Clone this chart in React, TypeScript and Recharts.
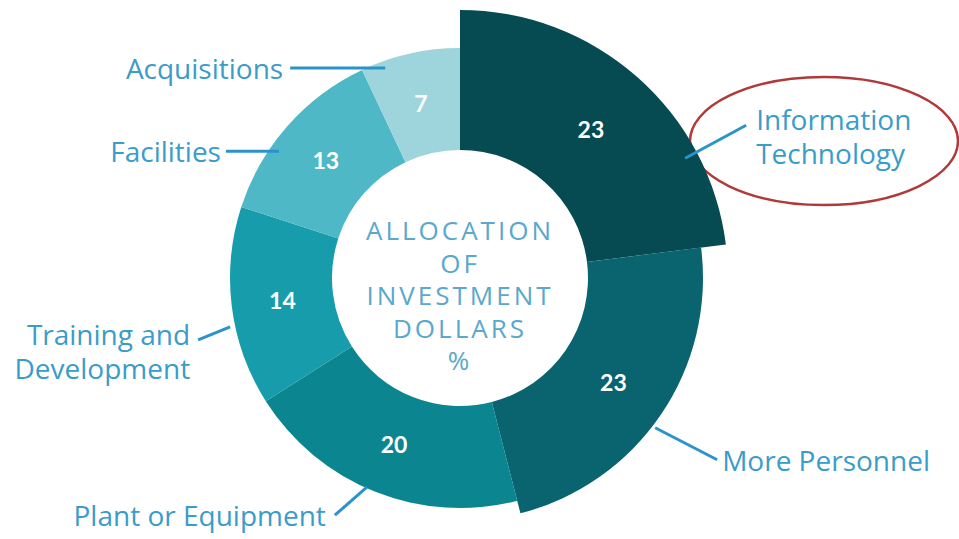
import React from "react";
import { PieChart, Pie, Cell } from "recharts";

const categorias = [
  "Information Technology",
  "More Personnel",
  "Plant or Equipment",
  "Training and Development",
  "Facilities",
  "Acquisitions",
];
const valores = [23, 23, 20, 14, 13, 7];

const cores = ["#064a52", "#0a6470", "#0b8590", "#169cab", "#4fb8c6", "#9ed5dc"];
// raio externo de cada fatia (IT e More Personnel se destacam)
const raios = [268, 243, 230, 230, 230, 230];

// linhas de chamada: angulo de partida, raio, deslocamento ate o texto
const chamadas = [
  { ang: 28, r: 255, dx: 61, dy: -33, gap: 10, linhas: ["Information", "Technology"], anchor: "start" },
  { ang: -37.5, r: 246, dx: 62, dy: 32, gap: 5, linhas: ["More Personnel"], anchor: "start" },
  { ang: -114, r: 229, dx: -32, dy: 28, gap: 9, linhas: ["Plant or Equipment"], anchor: "end" },
  { ang: -168, r: 235, dx: -32, dy: 13, gap: 8, linhas: ["Training and", "Development"], anchor: "end" },
  { ang: 145, r: 221, dx: -53, dy: 0, gap: 5, linhas: ["Facilities"], anchor: "end" },
  { ang: 109.6, r: 223, dx: -95, dy: 0, gap: 7, linhas: ["Acquisitions"], anchor: "end" },
];

const textoCentro = ["ALLOCATION", "OF", "INVESTMENT", "DOLLARS", "%"];

const dados = categorias.map((nome, i) => ({ nome, valor: valores[i] }));
const RAD = Math.PI / 180;
const CX = 460;
const CY = 278;
const INNER = 128;

const camadas = Array.from(new Set(raios));

const renderLabel = (props: any) => {
  const { cx, cy, midAngle, index } = props;
  const rMeio = (INNER + raios[index]) / 2;
  const vx = cx + rMeio * Math.cos(-midAngle * RAD);
  const vy = cy + rMeio * Math.sin(-midAngle * RAD);
  const c = chamadas[index];
  const sx = cx + c.r * Math.cos(-c.ang * RAD);
  const sy = cy + c.r * Math.sin(-c.ang * RAD);
  const ex = sx + c.dx;
  const ey = sy + c.dy;
  const tx = c.anchor === "start" ? ex + c.gap : ex - c.gap;
  const n = c.linhas.length;
  return (
    <g key={"lbl" + index}>
      <text
        x={vx}
        y={vy}
        textAnchor="middle"
        dominantBaseline="central"
        fill="#ffffff"
        fontFamily="Lato"
        fontWeight={700}
        fontSize={23}
      >
        {valores[index]}
      </text>
      <line x1={sx} y1={sy} x2={ex} y2={ey} stroke="#2b93cc" strokeWidth={3} />
      {c.linhas.map((l, j) => (
        <text
          key={j}
          x={tx}
          y={ey + (j - (n - 1) / 2) * 34 + (n > 1 ? 11 : 0)}
          textAnchor={c.anchor}
          dominantBaseline="central"
          fill="#3a9cc9"
          fontFamily="Open Sans"
          fontWeight={500}
          fontSize={28}
        >
          {l}
        </text>
      ))}
    </g>
  );
};

export default function App() {
  return (
    <div style={{ position: "absolute", left: 0, top: 0, background: "#fff" }}>
      <PieChart width={959} height={539} margin={{ top: 0, right: 0, bottom: 0, left: 0 }}>
        {camadas.map((r) => (
          <Pie
            key={"camada" + r}
            data={dados}
            dataKey="valor"
            nameKey="nome"
            cx={CX}
            cy={CY}
            innerRadius={INNER}
            outerRadius={r}
            startAngle={90}
            endAngle={-270}
            stroke="none"
            isAnimationActive={false}
          >
            {dados.map((d, i) => (
              <Cell key={d.nome} fill={raios[i] === r ? cores[i] : "transparent"} />
            ))}
          </Pie>
        ))}
        <Pie
          data={dados}
          dataKey="valor"
          nameKey="nome"
          cx={CX}
          cy={CY}
          innerRadius={INNER}
          outerRadius={230}
          startAngle={90}
          endAngle={-270}
          fill="transparent"
          stroke="none"
          label={renderLabel}
          labelLine={false}
          isAnimationActive={false}
        />
        {textoCentro.map((t, i) => (
          <text
            key={t}
            x={CX}
            y={230 + i * 32.5}
            textAnchor="middle"
            dominantBaseline="central"
            fill="#5aa8cc"
            fontFamily="Open Sans"
            fontSize={26}
            letterSpacing={3}
          >
            {t}
          </text>
        ))}
        <ellipse cx={824} cy={141} rx={134} ry={64} fill="none" stroke="#b03a3a" strokeWidth={2.5} />
      </PieChart>
    </div>
  );
}
